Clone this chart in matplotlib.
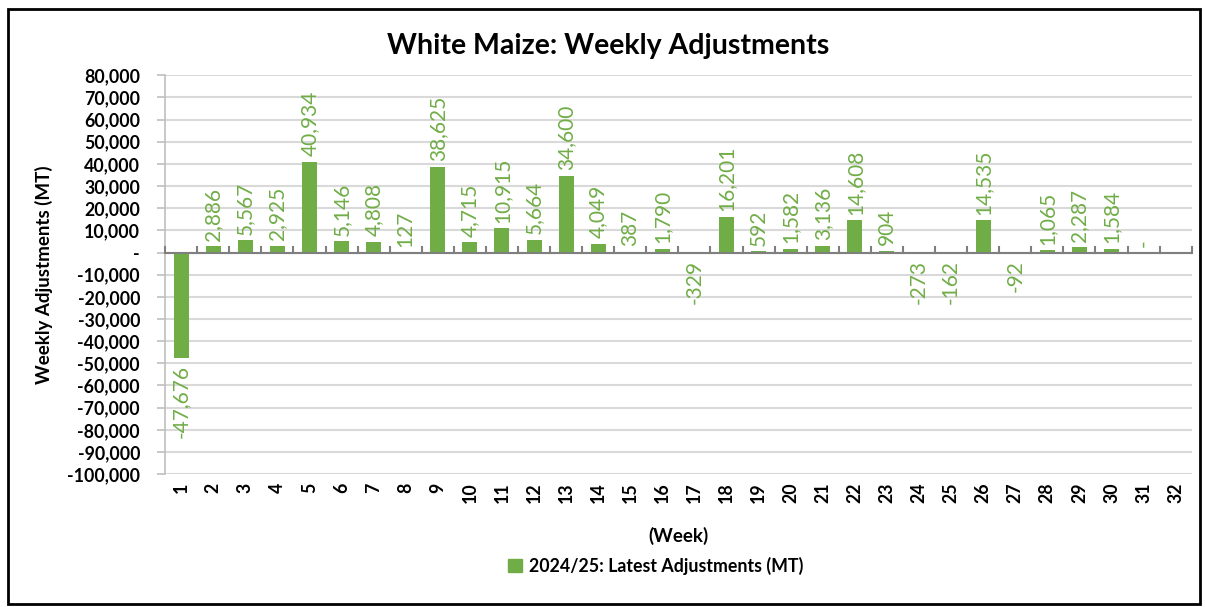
import matplotlib
matplotlib.use("Agg")
import matplotlib.pyplot as plt
from matplotlib.patches import Rectangle
import numpy as np

plt.rcParams["font.family"] = ["Lato", "DejaVu Sans"]

weeks = [str(i) for i in range(1, 33)]
adjustments = [-47676, 2886, 5567, 2925, 40934, 5146, 4808, 127, 38625, 4715,
               10915, 5664, 34600, 4049, 387, 1790, -329, 16201, 592, 1582,
               3136, 14608, 904, -273, -162, 14535, -92, 1065, 2287, 1584,
               0, None]
y_ticks = list(range(-100000, 80001, 10000))

GREEN = "#70ad47"
GRID = "#d9d9d9"

fig = plt.figure(figsize=(12.05, 6.07), dpi=100)
ax = fig.add_axes([0.137, 0.219, 0.852, 0.657])

x = np.arange(len(weeks))
vals = np.array([np.nan if v is None else v for v in adjustments], dtype=float)
ax.bar(x, np.nan_to_num(vals), width=0.47, color=GREEN, zorder=3)

for xi, v in zip(x, adjustments):
    if v is None:
        continue
    txt = "-" if v == 0 else f"{v:,}"
    off = 4 if v >= 0 else -5
    ax.annotate(txt, (xi, v), xytext=(0, off), textcoords="offset points",
                rotation=90, ha="center", va="bottom" if v >= 0 else "top",
                color=GREEN, fontsize=15)

ax.set_xlim(-0.5, len(weeks) - 0.5)
ax.set_ylim(-100000, 80000)
ax.set_yticks(y_ticks)
ax.set_yticklabels(["-" if t == 0 else f"{t:,}" for t in y_ticks],
                   fontsize=12.8, fontweight="bold")
ax.grid(axis="y", color=GRID, lw=1.5, zorder=0)
ax.set_axisbelow(True)

# x axis drawn at zero, labels at the bottom
ax.axhline(0, color="#7f7f7f", lw=1.5, zorder=4)
ax.set_xticks(x)
ax.set_xticklabels(weeks, rotation=90, fontsize=12.8, fontweight="bold")
ax.tick_params(axis="x", length=0, pad=6)
for b in np.arange(-0.5, len(weeks), 1.0):
    ax.plot([b, b], [0, 2600], color="#7f7f7f", lw=1.5, zorder=4, clip_on=False)

ax.tick_params(axis="y", length=6, color="#bfbfbf", width=1.2, pad=12)
for s in ["top", "right", "bottom"]:
    ax.spines[s].set_visible(False)
ax.spines["left"].set_color("#bfbfbf")
ax.spines["left"].set_linewidth(1.2)

ax.set_ylabel("Weekly Adjustments (MT)", fontsize=13.5, fontweight="bold", labelpad=10)
ax.set_xlabel("(Week)", fontsize=13.5, fontweight="bold", labelpad=17)
fig.suptitle("White Maize: Weekly Adjustments", fontsize=20.5, fontweight="bold",
             x=0.505, y=0.945)

fig.legend(handles=[Rectangle((0, 0), 1, 1, color=GREEN)],
           labels=["2024/25: Latest Adjustments (MT)"], loc="center",
           bbox_to_anchor=(0.544, 0.068), frameon=False,
           prop={"weight": "bold", "size": 12.8}, handlelength=0.8,
           handleheight=0.8, handletextpad=0.4)

fig.patches.append(Rectangle((0.007, 0.005), 0.989, 0.98, transform=fig.transFigure,
                             fill=False, edgecolor="black", lw=2))

fig.savefig("out.png", dpi=100)
